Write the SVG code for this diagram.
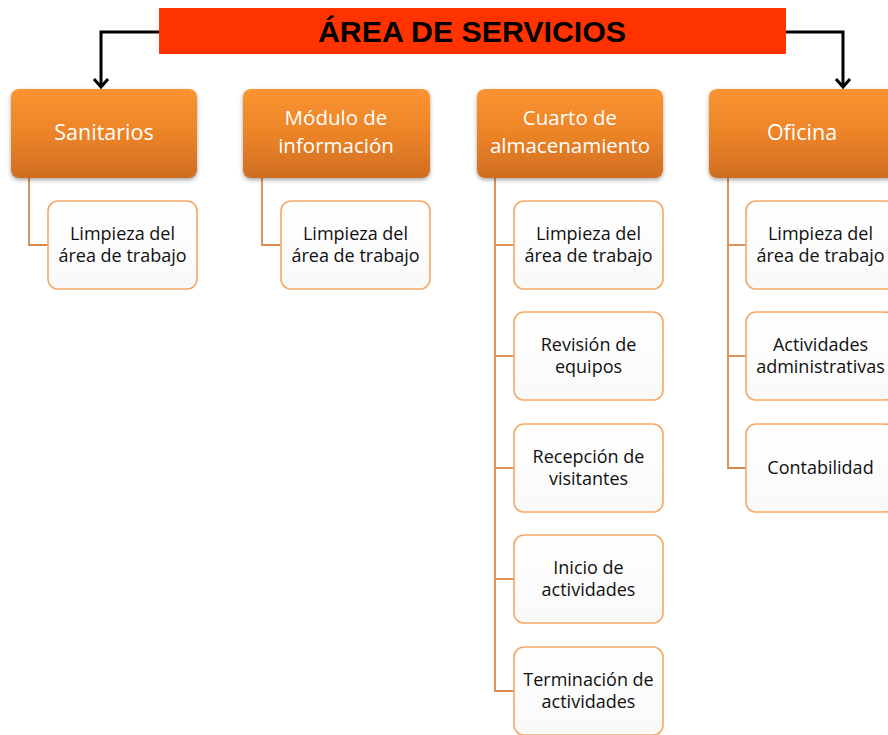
<svg xmlns="http://www.w3.org/2000/svg" width="888" height="735" viewBox="0 0 888 735">
<defs>
<linearGradient id="hg" x1="0" y1="0" x2="0" y2="1">
<stop offset="0" stop-color="#FB9431"/>
<stop offset="0.5" stop-color="#EC8428"/>
<stop offset="1" stop-color="#D06E22"/>
</linearGradient>
<linearGradient id="cg" x1="0" y1="0" x2="0" y2="1">
<stop offset="0" stop-color="#FFFFFF"/>
<stop offset="1" stop-color="#F9F9F9"/>
</linearGradient>
<filter id="sh" x="-10%" y="-10%" width="120%" height="130%">
<feDropShadow dx="0" dy="2" stdDeviation="2" flood-color="#000" flood-opacity="0.35"/>
</filter>
</defs>
<style>
.hdr{fill:url(#hg);filter:url(#sh)}
.ht{font-family:"Open Sans","Noto Sans",sans-serif;font-size:21.5px;fill:#FFFFFF;text-anchor:middle}
.ht2{font-family:"Open Sans","Noto Sans",sans-serif;font-size:20.5px;fill:#FFFFFF;text-anchor:middle}
.ch{fill:url(#cg);stroke:#F6A865;stroke-width:1.6}
.ct{font-family:"Open Sans","Noto Sans",sans-serif;font-size:18px;fill:#111111;text-anchor:middle}
.con{fill:none;stroke:#D9894B;stroke-width:1.8}
.arr{fill:none;stroke:#000;stroke-width:3}
.title{font-family:"Liberation Sans",Arial,sans-serif;font-weight:bold;font-size:30.3px;fill:#000;text-anchor:middle}
</style>
<rect width="888" height="735" fill="#FFFFFF"/>
<g id="connectors">
<polyline class="arr" points="159,32 101,32 101,87"/>
<polyline class="arr" points="94,79 101,87 108,79"/>
<polyline class="arr" points="786,32 843,32 843,87"/>
<polyline class="arr" points="836,79 843,87 850,79"/>
<polyline class="con" points="29,178 29,245 48,245"/>
<polyline class="con" points="262,178 262,245 281,245"/>
<polyline class="con" points="495,178 495,691 514,691"/>
<line class="con" x1="495" y1="245" x2="514" y2="245"/>
<line class="con" x1="495" y1="356" x2="514" y2="356"/>
<line class="con" x1="495" y1="468" x2="514" y2="468"/>
<line class="con" x1="495" y1="579" x2="514" y2="579"/>
<polyline class="con" points="728,178 728,468 746,468"/>
<line class="con" x1="728" y1="245" x2="746" y2="245"/>
<line class="con" x1="728" y1="356" x2="746" y2="356"/>
</g>
<g id="title">
<rect x="159" y="8" width="627" height="46" fill="#FF3300"/>
<text class="title" x="472" y="42">ÁREA DE SERVICIOS</text>
</g>
<g id="sanitarios">
<rect class="hdr" x="11" y="89" width="186" height="89" rx="8"/>
<text class="ht" x="104" y="140">Sanitarios</text>
</g>
<g id="modulo">
<rect class="hdr" x="243" y="89" width="187" height="89" rx="8"/>
<text class="ht2" x="336" y="125">Módulo de</text>
<text class="ht2" x="336" y="153">información</text>
</g>
<g id="cuarto">
<rect class="hdr" x="477" y="89" width="186" height="89" rx="8"/>
<text class="ht2" x="570" y="125">Cuarto de</text>
<text class="ht2" x="570" y="153">almacenamiento</text>
</g>
<g id="oficina">
<rect class="hdr" x="709" y="89" width="186" height="89" rx="8"/>
<text class="ht" x="802" y="140">Oficina</text>
</g>
<g id="san-limpieza">
<rect class="ch" x="48" y="201" width="149" height="88" rx="10"/>
<text class="ct" x="122.5" y="239.5">Limpieza del</text>
<text class="ct" x="122.5" y="262">área de trabajo</text>
</g>
<g id="mod-limpieza">
<rect class="ch" x="281" y="201" width="149" height="88" rx="10"/>
<text class="ct" x="355.5" y="239.5">Limpieza del</text>
<text class="ct" x="355.5" y="262">área de trabajo</text>
</g>
<g id="cua-limpieza">
<rect class="ch" x="514" y="201" width="149" height="88" rx="10"/>
<text class="ct" x="588.5" y="239.5">Limpieza del</text>
<text class="ct" x="588.5" y="262">área de trabajo</text>
</g>
<g id="cua-revision">
<rect class="ch" x="514" y="312" width="149" height="88" rx="10"/>
<text class="ct" x="588.5" y="350.5">Revisión de</text>
<text class="ct" x="588.5" y="373">equipos</text>
</g>
<g id="cua-recepcion">
<rect class="ch" x="514" y="424" width="149" height="88" rx="10"/>
<text class="ct" x="588.5" y="462.5">Recepción de</text>
<text class="ct" x="588.5" y="485">visitantes</text>
</g>
<g id="cua-inicio">
<rect class="ch" x="514" y="535" width="149" height="88" rx="10"/>
<text class="ct" x="588.5" y="573.5">Inicio de</text>
<text class="ct" x="588.5" y="596">actividades</text>
</g>
<g id="cua-terminacion">
<rect class="ch" x="514" y="647" width="149" height="88" rx="10"/>
<text class="ct" x="588.5" y="685.5">Terminación de</text>
<text class="ct" x="588.5" y="708">actividades</text>
</g>
<g id="ofi-limpieza">
<rect class="ch" x="746" y="201" width="149" height="88" rx="10"/>
<text class="ct" x="820.5" y="239.5">Limpieza del</text>
<text class="ct" x="820.5" y="262">área de trabajo</text>
</g>
<g id="ofi-actividades">
<rect class="ch" x="746" y="312" width="149" height="88" rx="10"/>
<text class="ct" x="820.5" y="350.5">Actividades</text>
<text class="ct" x="820.5" y="373">administrativas</text>
</g>
<g id="ofi-contabilidad">
<rect class="ch" x="746" y="424" width="149" height="88" rx="10"/>
<text class="ct" x="820.5" y="474">Contabilidad</text>
</g>
</svg>
